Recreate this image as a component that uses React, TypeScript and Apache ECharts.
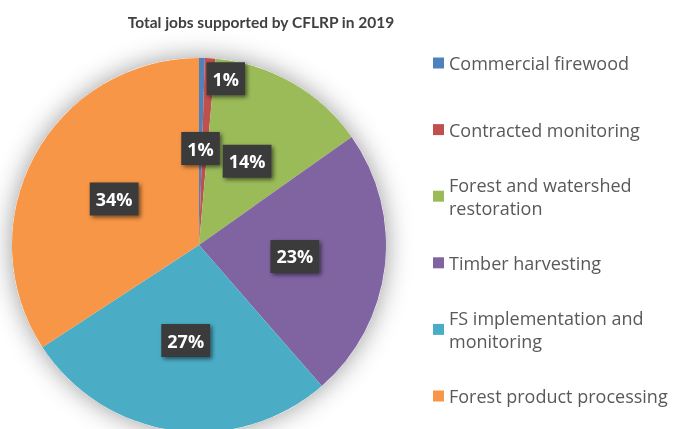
import React, { useEffect, useRef } from "react";
import * as echarts from "echarts";

const categories = [
  "Commercial firewood",
  "Contracted monitoring",
  "Forest and watershed restoration",
  "Timber harvesting",
  "FS implementation and monitoring",
  "Forest product processing",
];
const legendLabels = [
  "Commercial firewood",
  "Contracted monitoring",
  "Forest and watershed\nrestoration",
  "Timber harvesting",
  "FS implementation and\nmonitoring",
  "Forest product processing",
];
const shares = [0.5, 0.9, 13.8, 23.4, 27.2, 34.2];
const colors = ["#4F81BD", "#C0504D", "#9BBB59", "#8064A2", "#4BACC6", "#F79646"];
const titleText = "Total jobs supported by CFLRP in 2019";

export default function App() {
  const ref = useRef<HTMLDivElement>(null);
  useEffect(() => {
    if (!ref.current) return;
    const chart = echarts.init(ref.current, null, { renderer: "svg" });
    const lh = 23;
    const legends = categories.map((name, i) => {
      const lines = legendLabels[i].split("\n").length;
      const center = 63 + i * 66.6;
      return {
        orient: "vertical",
        left: 433,
        top: lines === 2 ? center - 1.5 * lh : center - 0.5 * lh,
        padding: 0,
        data: [name],
        icon: "rect",
        itemWidth: 11,
        itemHeight: 11,
        itemGap: 0,
        selectedMode: false,
        formatter: () => legendLabels[i],
        textStyle: {
          fontFamily: "Open Sans",
          fontSize: 18,
          color: "#595959",
          lineHeight: lh,
          padding: lines === 2 ? [lh, 0, 0, 0] : 0,
        },
      };
    });
    const labelBox = {
      color: "#fff",
      fontFamily: "Open Sans",
      fontWeight: "bold",
      fontSize: 18,
      lineHeight: 21,
      backgroundColor: "#3a3a3a",
      padding: [7, 6, 5, 6],
      shadowBlur: 4,
      shadowColor: "rgba(0,0,0,0.55)",
      shadowOffsetX: 2,
      shadowOffsetY: 2,
    };
    chart.setOption({
      animation: false,
      title: {
        text: titleText,
        left: 256,
        top: 9,
        textAlign: "center",
        textStyle: {
          fontFamily: "Lato",
          fontWeight: "bold",
          fontSize: 15.5,
          color: "#404040",
        },
      },
      legend: legends,
      series: [
        {
          type: "pie",
          silent: true,
          center: [199, 245],
          radius: 187,
          label: { show: false },
          labelLine: { show: false },
          itemStyle: {
            color: "#ffffff",
            shadowBlur: 26,
            shadowColor: "rgba(0,0,0,0.4)",
          },
          data: [{ name: "", value: 1 }],
        },
        {
          type: "pie",
          center: [199, 245],
          radius: 187,
          startAngle: 90,
          clockwise: true,
          avoidLabelOverlap: false,
          labelLine: { show: false },
          label: {
            show: true,
            position: "inside",
            formatter: (p: any) => Math.round(p.percent) + "%",
            ...labelBox,
          },
          data: categories.map((name, i) => ({
            name,
            value: shares[i],
            itemStyle: { color: colors[i] },
            label: i === 1 ? { offset: [21, -70] } : undefined,
          })),
        },
      ],
    });
    return () => chart.dispose();
  }, []);
  return (
    <div
      ref={ref}
      style={{ position: "fixed", left: 0, top: 0, width: 676, height: 429 }}
    />
  );
}
